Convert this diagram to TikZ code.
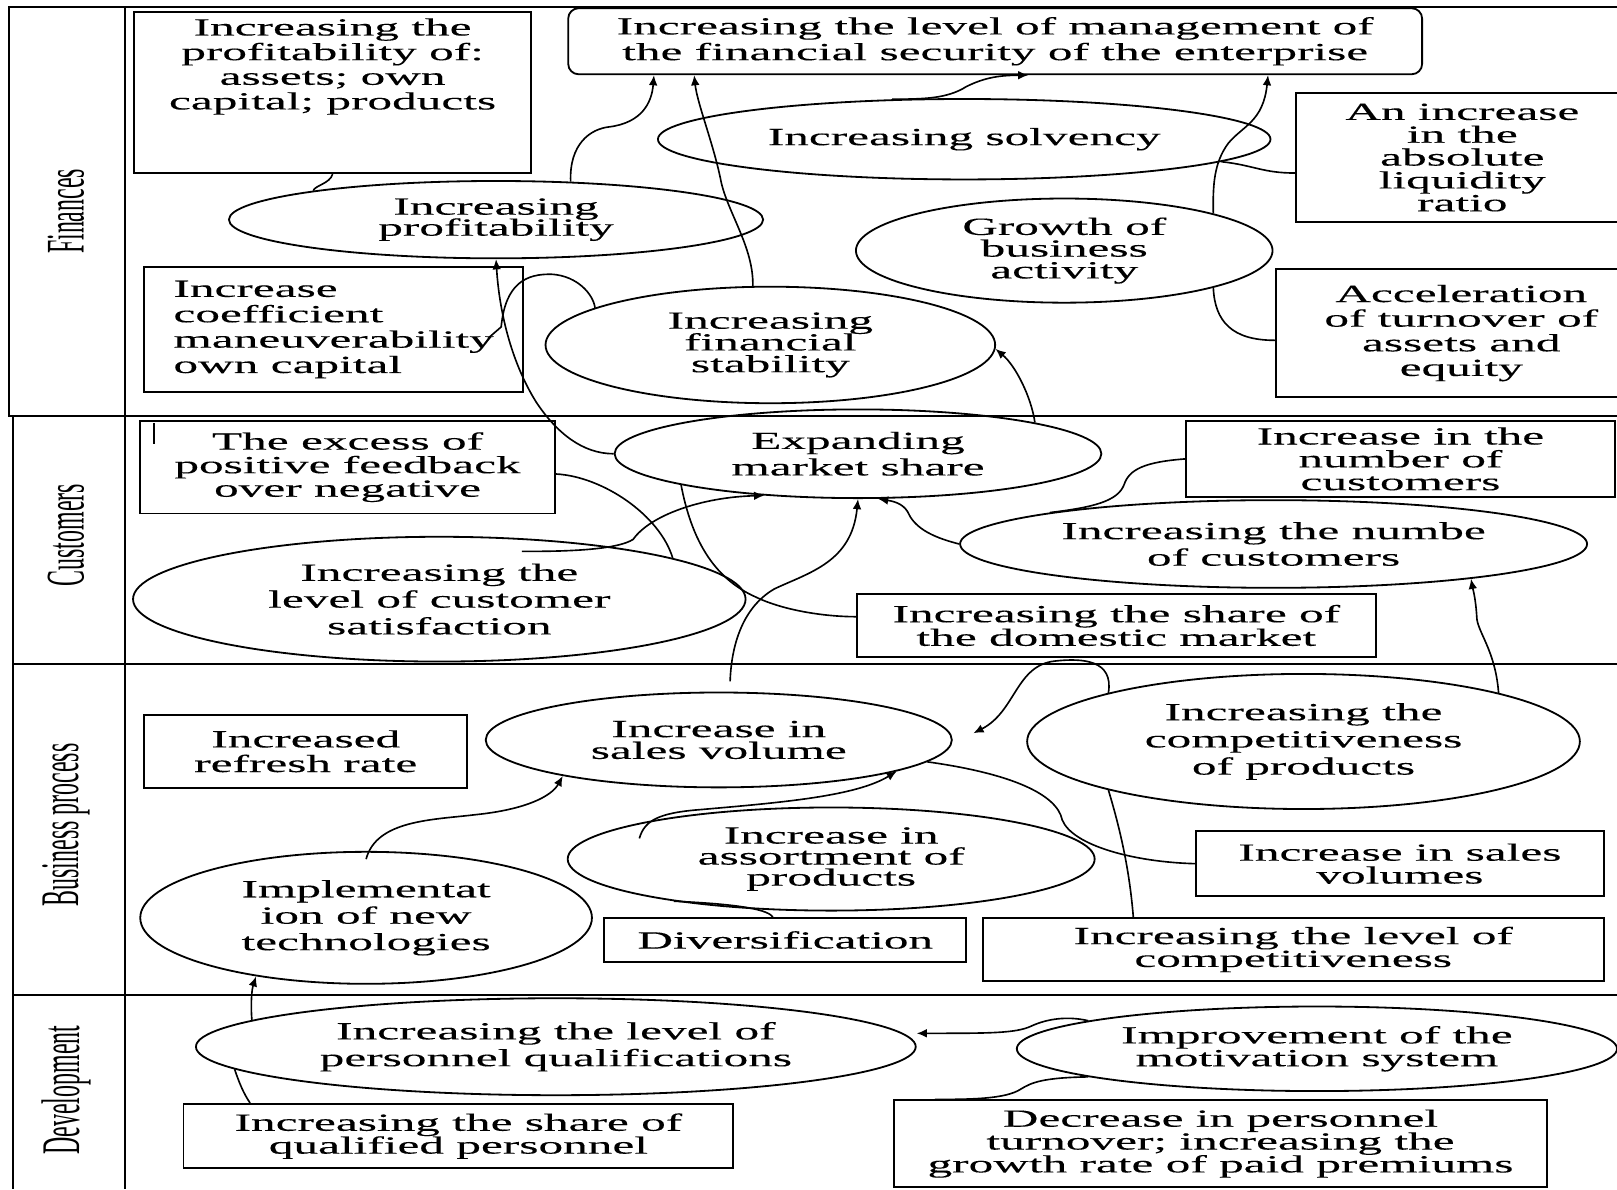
\documentclass[tikz,border=0pt]{standalone}
\usepackage{fontspec}
\setmainfont{Liberation Serif}
\newfontfamily\widefont[FakeStretch=2.0,FakeBold=0.25]{Liberation Serif}
\newfontfamily\lanefont[FakeStretch=0.44]{Liberation Serif}
\usetikzlibrary{arrows.meta,shapes}
\lineskiplimit=-10pt
\tikzstyle{goal}=[ellipse,draw,line width=0.5pt,inner sep=0pt,align=center]
\tikzstyle{measure}=[rectangle,draw,line width=0.5pt,inner sep=0pt,align=center]
\tikzstyle{lane}=[rotate=90,font=\lanefont\fontsize{15}{15}\selectfont]
\tikzstyle{laneline}=[draw,line width=0.6pt]
\tikzstyle{relation} = [draw,line width=0.45pt]
\tikzstyle{influence} = [draw,line width=0.45pt,-{Latex[length=2.8pt,width=2.4pt]}]

\begin{document}
\begin{tikzpicture}[x=0.1mm,y=-0.1mm]
    \useasboundingbox (0,0) rectangle (1568,1153);

    % lanes
    \draw[laneline] (1568,7) -- (9,7) -- (9,403) -- (1568,403);
    \draw[laneline] (13,403) -- (13,1153);
    \draw[laneline] (121,7) -- (121,1153);
    \draw[laneline] (13,644) -- (1568,644);
    \draw[laneline] (13,965) -- (1568,965);
    \foreach \y/\name/\txt in {205/fin/Finances, 519/cust/Customers, 800/proc/Business process, 1057/dev/Development}
        \node[lane] (\name) at (64,\y) {\txt};

    % goals
    \foreach \pos/\name/\w/\h/\ls/\txt in {
        {(935,135)/solv/59.4/7.8/7/{Increasing solvency}},
        {(481,213)/prof/51.8/7.5/5.8/{Increasing\\ profitability}},
        {(1032,243)/growth/40.4/10.1/6/{Growth of\\ business\\ activity}},
        {(747,334.5)/stab/43.6/11.3/6/{Increasing\\ financial\\ stability}},
        {(832,440)/market/47.2/8.6/7.3/{Expanding\\ market share}},
        {(1235,527.5)/numcust/60.8/8.5/7.3/{Increasing the numbe\\ of customers}},
        {(426,581)/satisf/59.4/12.1/7.4/{Increasing the\\ level of customer\\ satisfaction}},
        {(697,717.5)/sales/45.2/9.2/6/{Increase in\\ sales volume}},
        {(1264,719)/compet/53.6/13.1/7.5/{Increasing the\\ competitiveness\\ of products}},
        {(806,833)/assort/51.1/10/5.8/{Increase in\\ assortment of\\ products}},
        {(355,890)/implem/43.8/12.8/7.3/{Implementat\\ ion of new\\ technologies}},
        {(539,1015)/qualif/69.8/9.4/7.4/{Increasing the level of\\ personnel qualifications}},
        {(1277,1017)/motiv/58.2/8.2/6.3/{Improvement of the\\ motivation system}}}
        \node[goal,minimum width=\w mm,minimum height=\h mm,font=\widefont\fontsize{6.8}{\ls}\selectfont] (\name) at \pos {\txt};

    % indicators
    \foreach \pos/\name/\w/\h/\ls/\txt in {
        {(1418,152.75)/liq/32.2/12.55/6.3/{An increase\\ in the\\ absolute\\ liquidity\\ ratio}},
        {(1417,323)/accel/36/12.4/6.8/{Acceleration\\ of turnover of\\ assets and\\ equity}},
        {(337,453)/feedback/40.2/9/6.5/{The excess of\\ positive feedback\\ over negative}},
        {(1358,445)/numbox/41.6/7.4/6.3/{Increase in the\\ number of\\ customers}},
        {(1082.5,606.5)/domestic/50.3/6.1/6.5/{Increasing the share of\\ the domestic market}},
        {(296.5,728.5)/refresh/31.3/7.1/6.8/{Increased\\ refresh rate}},
        {(1357.5,837.5)/salesbox/39.5/6.3/6.3/{Increase in sales\\ volumes}},
        {(761.5,911.5)/divers/35.1/4.2/6.5/{Diversification}},
        {(1254,920.7)/levelcomp/60.2/6.05/6.3/{Increasing the level of\\ competitiveness}},
        {(444.5,1101.7)/qualbox/53.3/6.25/6.3/{Increasing the share of\\ qualified personnel}},
        {(1183.5,1109)/turnover/63.3/8.4/6.3/{Decrease in personnel\\ turnover; increasing the\\ growth rate of paid premiums}}}
        \node[measure,minimum width=\w mm,minimum height=\h mm,font=\widefont\fontsize{6.8}{\ls}\selectfont] (\name) at \pos {\txt};

    \node[measure,rounded corners=1mm,minimum width=82.8mm,minimum height=6.4mm,font=\widefont\fontsize{6.8}{7.1}\selectfont] (topgoal) at (965,40) {Increasing the level of management of\\ the financial security of the enterprise};
    \node[measure,minimum width=38.5mm,minimum height=15.6mm,
        label={[anchor=north,align=center,inner sep=0pt,yshift=-0.6mm,font=\widefont\fontsize{6.8}{6.8}\selectfont]north:{Increasing the\\ profitability of:\\ assets;\enspace own\\ capital; products}}] (profbox) at (322.5,90) {};
    \node[measure,align=left,minimum width=36.7mm,minimum height=12.1mm,font=\widefont\fontsize{6.8}{7}\selectfont] (coef) at (323.5,319.5) {Increase\\ coefficient\\ maneuverability\\ own capital};
    \draw[relation] ([xshift=1.4mm,yshift=-0.3mm]feedback.north west) -- ++(0,20);

    % finances
    \draw[influence] (prof.27) .. controls (552,140) and (572,125) .. (591,123) .. controls (622,119) and (632,100) .. ([xshift=8.4mm]topgoal.south west);
    \draw[influence] ([xshift=-1.7mm]stab.north) .. controls (731,240) and (705,205) .. (699,175) .. controls (692,140) and (676,100) .. ([xshift=12.3mm]topgoal.south west);
    \draw[influence] (solv.151) .. controls (895,96) and (918,96) .. (937,84) .. controls (955,75) and (970,73) .. ([xshift=44.7mm]topgoal.south west);
    \draw[influence] (growth.14) .. controls (1176,180) and (1177,158) .. (1191,139) .. controls (1205,122) and (1225,118) .. ([xshift=67.95mm]topgoal.south west);
    \draw[relation] ([yshift=-1.5mm]liq.west) .. controls (1225,168) and (1215,160) .. (solv.-5);
    \draw[relation] ([yshift=-0.7mm]accel.west) .. controls (1195,330) and (1178,312) .. (growth.-14);
    \draw[relation] (prof.171) .. controls (305,180) and (320,178) .. (profbox.south);
    \draw[influence] (market.west) .. controls (565,440) and (540,420) .. (520,390) .. controls (495,350) and (484,300) .. (prof.south);
    \draw[relation] ([xshift=-3.4mm,yshift=-0.8mm]coef.east) -- (486,317) .. controls (490,275) and (510,265) .. (536,266) .. controls (560,268) and (575,285) .. (stab.168);
    \draw[influence] (market.10) .. controls (1000,385) and (985,355) .. (stab.-1);

    % customers
    \draw[relation] ([yshift=-0.66mm]feedback.east) .. controls (585,462) and (640,500) .. (satisf.10);
    \draw[influence] ([xshift=8mm,yshift=-1.5mm]satisf.north) .. controls (560,535) and (600,532) .. (614,523) .. controls (630,500) and (680,482) .. (market.204);
    \draw[relation] (market.190) .. controls (670,520) and (690,560) .. (733,579) .. controls (760,592) and (800,598) .. ([yshift=0.85mm]domestic.west);
    \draw[influence] ([xshift=1.1mm,yshift=1mm]sales.north) .. controls (709,630) and (718,590) .. (751,571) .. controls (785,555) and (826,545) .. (market.south);
    \draw[influence] (numcust.west) .. controls (900,520) and (886,510) .. (880,496) .. controls (875,488) and (866,486) .. (market.-66);
    \draw[relation] (numbox.west) .. controls (1110,448) and (1095,455) .. (1090,470) .. controls (1084,486) and (1060,492) .. (numcust.172);
    \draw[influence] (compet.14) .. controls (1450,630) and (1432,612) .. (1432,598) .. controls (1431,580) and (1428,570) .. (numcust.-10);

    % business process
    \draw[influence] (compet.166) .. controls (1080,640) and (1050,638) .. (1023,641) .. controls (985,645) and (985,690) .. ([xshift=2mm,yshift=0.65mm]sales.east);
    \draw[influence] ([yshift=-0.8mm]implem.north) .. controls (365,795) and (420,795) .. (461,790) .. controls (510,785) and (535,772) .. (sales.193);
    \draw[influence] ([xshift=-18.6mm,yshift=2mm]assort.center) .. controls (625,795) and (640,788) .. (680,785) .. controls (760,778) and (830,772) .. (sales.-10);
    \draw[relation] ([xshift=-1.2mm]divers.north) .. controls (745,880) and (700,876) .. (assort.195);
    \draw[relation] (sales.-6) .. controls (980,750) and (1025,770) .. (1030,795) .. controls (1040,820) and (1100,836) .. (salesbox.west);
    \draw[relation] ([xshift=-15.5mm]levelcomp.north) .. controls (1095,840) and (1085,800) .. (compet.194);

    % development
    \draw[relation] ([xshift=-20.2mm]qualbox.north) .. controls (236,1060) and (232,1050) .. (qualif.184);
    \draw[influence] (qualif.175) .. controls (243,975) and (244,960) .. (implem.208);
    \draw[influence] (motiv.173) .. controls (1035,985) and (1015,988) .. (1000,995) .. controls (985,1002) and (960,1002) .. ([yshift=1.3mm]qualif.east);
    \draw[relation] (motiv.187) .. controls (1010,1045) and (1000,1050) .. (990,1056) .. controls (975,1066) and (940,1066) .. ([xshift=-27.7mm]turnover.north);
\end{tikzpicture}
\end{document}
